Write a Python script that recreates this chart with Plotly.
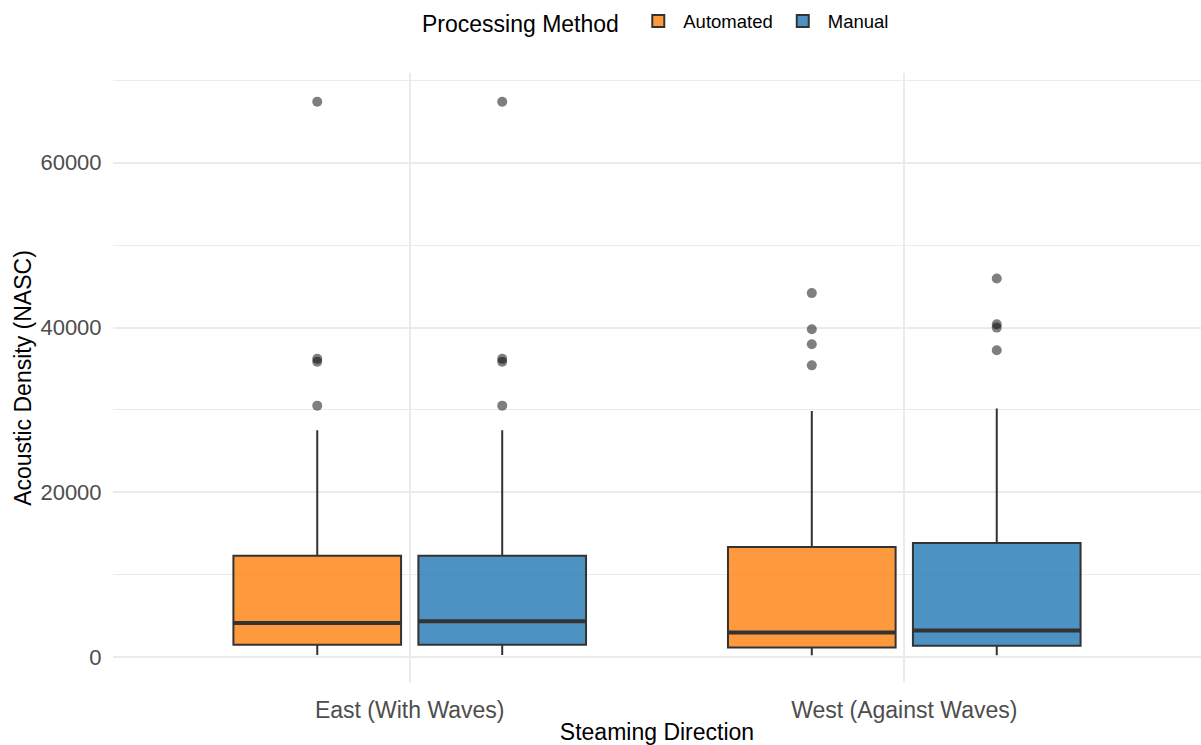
import plotly.graph_objects as go

# ---- data ----
directions = ["East (With Waves)", "West (Against Waves)"]
methods = ["Automated", "Manual"]

auto_lower = [260, 225]
auto_q1 = [1500, 1170]
auto_median = [4130, 2980]
auto_q3 = [12300, 13360]
auto_upper = [27540, 29860]
auto_outliers = [[30520, 35850, 36200, 67410], [35410, 37980, 39790, 44180]]

manual_lower = [260, 225]
manual_q1 = [1500, 1370]
manual_median = [4360, 3220]
manual_q3 = [12300, 13850]
manual_upper = [27540, 30180]
manual_outliers = [[30520, 35850, 36200, 67410], [37250, 39990, 40390, 45950]]

y_ticks = [0, 20000, 40000, 60000]

# ---- styling ----
fills = {"Automated": "rgba(255,127,14,0.8)", "Manual": "rgba(31,119,180,0.8)"}
line_col = "#333333"
dodge = 0.187
box_w = 0.339
FONT = "Liberation Sans, Arial, sans-serif"

stats = {
    "Automated": (auto_lower, auto_q1, auto_median, auto_q3, auto_upper, auto_outliers, -dodge),
    "Manual": (manual_lower, manual_q1, manual_median, manual_q3, manual_upper, manual_outliers, dodge),
}

fig = go.Figure()
for m in methods:
    lo, q1, med, q3, up, outs, off = stats[m]
    xs = [i + off for i in range(len(directions))]
    fig.add_trace(go.Box(
        name=m, x=xs, q1=q1, median=med, q3=q3, lowerfence=lo, upperfence=up,
        width=box_w, fillcolor=fills[m], line=dict(color=line_col, width=2),
        whiskerwidth=0, boxpoints=False, hoverinfo="y", showlegend=True,
    ))
    # thicker median line
    for i, x in enumerate(xs):
        fig.add_trace(go.Scatter(
            x=[x - box_w / 2, x + box_w / 2], y=[med[i], med[i]], mode="lines",
            line=dict(color=line_col, width=4), showlegend=False, hoverinfo="skip",
        ))
        fig.add_trace(go.Scatter(
            x=[x] * len(outs[i]), y=outs[i], mode="markers",
            marker=dict(color="rgba(0,0,0,0.5)", size=10, line=dict(width=0)),
            showlegend=False, hoverinfo="y",
        ))

fig.update_layout(
    width=1201, height=745,
    margin=dict(l=113, r=0, t=73, b=58),
    paper_bgcolor="white", plot_bgcolor="white",
    font=dict(family=FONT, color="black"),
    showlegend=True,
    legend=dict(
        orientation="h", x=0.5, xanchor="center", y=1.083, yanchor="middle",
        title=dict(text="Processing Method ", font=dict(size=23, color="black"), side="left"),
        font=dict(size=18.5, color="black"), itemwidth=40,
    ),
    xaxis=dict(
        range=[-0.6, 1.6], tickmode="array", tickvals=list(range(len(directions))),
        ticktext=directions, showgrid=True, gridcolor="#EBEBEB", gridwidth=1.5,
        zeroline=False, showline=False, ticks="outside", ticklen=6,
        tickcolor="rgba(0,0,0,0)", tickfont=dict(size=23, color="#4D4D4D"),
        title=dict(text="Steaming Direction", font=dict(size=23, color="black"), standoff=6),
    ),
    yaxis=dict(
        range=[-3140, 70890], tickmode="array", tickvals=y_ticks,
        ticktext=[str(v) for v in y_ticks], showgrid=True, gridcolor="#EBEBEB",
        gridwidth=1.5, zeroline=False, showline=False, ticks="outside", ticklen=6,
        tickcolor="rgba(0,0,0,0)", tickfont=dict(size=22, color="#4D4D4D"),
        minor=dict(tickvals=[10000, 30000, 50000, 70000], showgrid=True,
                   gridcolor="#EBEBEB", gridwidth=1),
        title=dict(text="Acoustic Density (NASC)", font=dict(size=23, color="black"), standoff=2),
    ),
)

fig.write_html(
    "out.html",
    config={"displayModeBar": False},
    post_script="document.body.style.margin='0';document.body.style.overflow='hidden';",
)
